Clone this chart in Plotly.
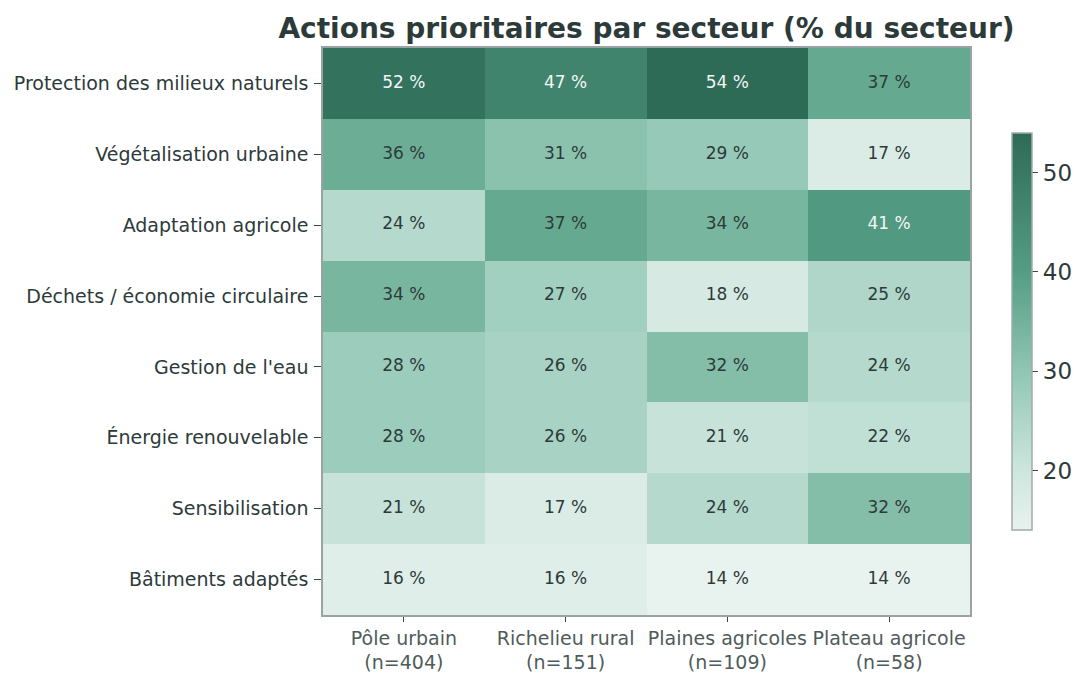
import plotly.graph_objects as go

actions = [
    "Protection des milieux naturels",
    "Végétalisation urbaine",
    "Adaptation agricole",
    "Déchets / économie circulaire",
    "Gestion de l'eau",
    "Énergie renouvelable",
    "Sensibilisation",
    "Bâtiments adaptés",
]
secteurs = [
    "Pôle urbain<br>(n=404)",
    "Richelieu rural<br>(n=151)",
    "Plaines agricoles<br>(n=109)",
    "Plateau agricole<br>(n=58)",
]
pole_urbain = [52, 36, 24, 34, 28, 28, 21, 16]
richelieu_rural = [47, 31, 37, 27, 26, 26, 17, 16]
plaines_agricoles = [54, 29, 34, 18, 32, 21, 24, 14]
plateau_agricole = [37, 17, 41, 25, 24, 22, 32, 14]

cols = [pole_urbain, richelieu_rural, plaines_agricoles, plateau_agricole]
z = [[cols[j][i] for j in range(len(secteurs))] for i in range(len(actions))]

colorscale = [
    [0.0, "#e8f2ee"],
    [0.15, "#cde6dd"],
    [0.4, "#90c6b3"],
    [0.65, "#549d83"],
    [1.0, "#2e6b57"],
]

fig = go.Figure()
fig.add_trace(go.Heatmap(
    z=z, x=secteurs, y=actions,
    colorscale=colorscale, zmin=14, zmax=54,
    xgap=0, ygap=0, hoverinfo="skip",
    colorbar=dict(
        x=1.065, xanchor="left", y=0.5, yanchor="middle", yref="paper",
        len=0.70, lenmode="fraction", thickness=20, xpad=0, ypad=0,
        outlinecolor="#a3abab", outlinewidth=1.5,
        tickvals=[20, 30, 40, 50], ticks="outside", ticklen=6, tickprefix="\u2009",
        tickcolor="#3a4545", tickfont=dict(size=23, color="#2d3a3a", family="DejaVu Sans"),
    ),
))

tx, ty, tt, tc = [], [], [], []
for i, a in enumerate(actions):
    for j, s in enumerate(secteurs):
        v = z[i][j]
        tx.append(s); ty.append(a); tt.append(f"{v} %")
        tc.append("#f2f7f5" if v >= 40 else "#2d3a3a")
fig.add_trace(go.Scatter(
    x=tx, y=ty, text=tt, mode="text", textposition="middle center",
    textfont=dict(color=tc, size=17, family="DejaVu Sans"),
    hoverinfo="skip", showlegend=False,
))

fig.update_layout(
    width=1078, height=673,
    margin=dict(l=323, r=108, t=48, b=58, autoexpand=False),
    paper_bgcolor="white", plot_bgcolor="white",
    font=dict(family="DejaVu Sans", color="#2d3a3a"),
    title=dict(text="<b>Actions prioritaires par secteur (% du secteur)</b>",
               x=0.5, xref="paper", xanchor="center", y=1 - 28 / 673, yref="container", yanchor="middle",
               font=dict(size=28, color="#2d3a3a", family="DejaVu Sans")),
    showlegend=False,
)
fig.update_xaxes(
    showline=True, linecolor="#9aa3a3", linewidth=1.5, mirror=True,
    ticks="outside", ticklen=5, tickcolor="#3a4545",
    tickfont=dict(size=19, color="#4f5b5b"), showgrid=False, zeroline=False,
)
fig.update_yaxes(
    autorange="reversed",
    showline=True, linecolor="#9aa3a3", linewidth=1.5, mirror=True,
    ticks="outside", ticklen=7, tickcolor="#3a4545", ticklabelstandoff=2,
    tickfont=dict(size=19, color="#2d3a3a"), showgrid=False, zeroline=False,
)

fig.write_html(
    "out.html",
    config={"displayModeBar": False},
    post_script="document.body.style.margin='0';document.body.style.overflow='hidden';",
)
